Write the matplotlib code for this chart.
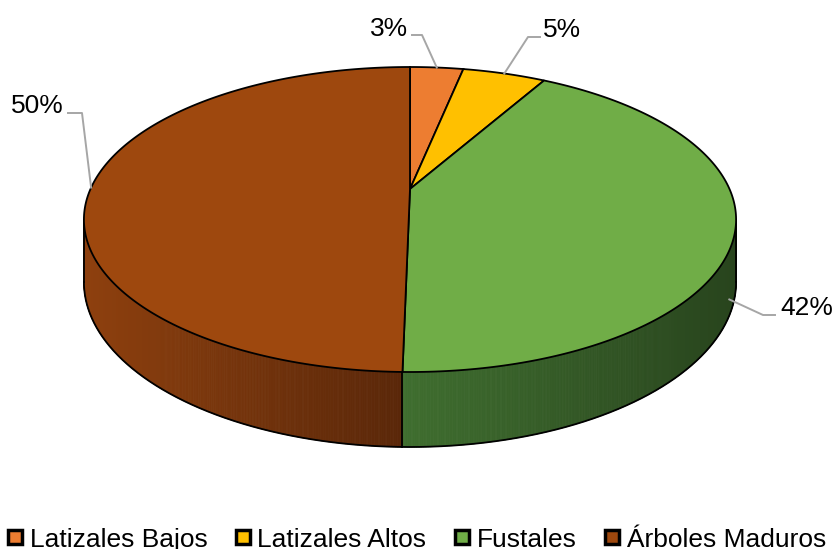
import numpy as np
import matplotlib.pyplot as plt
from matplotlib.patches import Polygon
from matplotlib.collections import PolyCollection
from matplotlib.lines import Line2D
from matplotlib.colors import to_rgb

plt.rcParams['font.family'] = ['Liberation Sans', 'DejaVu Sans']

# data
categories = ['Latizales Bajos', 'Latizales Altos', 'Fustales', 'Árboles Maduros']
values = [3.2, 5.0, 42.1, 49.7]
top_colors = ['#ED7D31', '#FFC000', '#70AD47', '#9E480E']
side_light = ['#C8651F', '#D9A300', '#3F6E2F', '#8E400E']
side_dark = ['#8A4313', '#9A7500', '#28441D', '#5A2709']

# pie geometry in pixels (perspective view of a disc)
CX, CY = 410, 189
A, B = 319.5, 146.4
K = 0.2
H = 60


def proj(theta, drop=0.0):
    X = np.sin(theta)
    Y = -np.cos(theta)
    d = 1 - K * Y
    return CX + A * X / d, CY + B * Y / d + drop * H / d


fig = plt.figure(figsize=(8.33, 5.49), dpi=100)
ax = fig.add_axes([0, 0, 1, 1])
ax.set_xlim(0, 833)
ax.set_ylim(549, 0)
ax.axis('off')

frac = np.array(values) / sum(values)
edges = np.concatenate([[0], np.cumsum(frac)]) * 2 * np.pi
th_r = np.arccos(-K)
th_l = 2 * np.pi - th_r

# side walls
for i in range(len(values)):
    t0 = max(edges[i], th_r)
    t1 = min(edges[i + 1], th_l)
    if t1 <= t0:
        continue
    ts = np.linspace(t0, t1, int(np.degrees(t1 - t0) * 4) + 2)
    xt, yt = proj(ts)
    xb, yb = proj(ts, 1)
    x_lo, x_hi = xt.min(), xt.max()
    c0, c1 = np.array(to_rgb(side_light[i])), np.array(to_rgb(side_dark[i]))
    quads, cols = [], []
    for j in range(len(ts) - 1):
        quads.append([(xt[j], yt[j]), (xt[j + 1], yt[j + 1]), (xb[j + 1], yb[j + 1]), (xb[j], yb[j])])
        f = ((xt[j] + xt[j + 1]) / 2 - x_lo) / max(x_hi - x_lo, 1)
        cols.append(c0 + (c1 - c0) * f)
    ax.add_collection(PolyCollection(quads, facecolors=cols, edgecolors=cols, linewidths=0.6, zorder=1))

# side outlines
ts = np.linspace(th_r, th_l, 400)
xb, yb = proj(ts, 1)
ax.plot(xb, yb, color='black', lw=1.3, zorder=2)
for t in [th_r, th_l] + [e for e in edges if th_r < e < th_l]:
    xs = [proj(t)[0], proj(t, 1)[0]]
    ys = [proj(t)[1], proj(t, 1)[1]]
    ax.plot(xs, ys, color='black', lw=1.3, zorder=2)

# top face
for i in range(len(values)):
    ts = np.linspace(edges[i], edges[i + 1], 200)
    x, y = proj(ts)
    pts = np.column_stack([np.concatenate([[CX], x]), np.concatenate([[CY], y])])
    ax.add_patch(Polygon(pts, closed=True, facecolor=top_colors[i], edgecolor='black', lw=1.3, zorder=3))

# data labels with leader lines
label_pos = [(408, 29, 'right'), (543, 30, 'left'), (780, 308, 'left'), (64, 106, 'right')]
elbows = [[(412, 35), (422, 35)], [(540, 37), (528, 37)], [(775, 315), (763, 315)], [(68, 113), (82, 113)]]
for i, v in enumerate(values):
    mid = (edges[i] + edges[i + 1]) / 2
    drop = 1.1 if th_r < mid < th_l else 0.0
    ax_, ay_ = proj(mid, drop)
    if drop:
        ax_ -= 6
    px = [p[0] for p in elbows[i]] + [ax_]
    py = [p[1] for p in elbows[i]] + [ay_]
    ax.plot(px, py, color='#A6A6A6', lw=1.4, zorder=4)
    tx, ty, ha = label_pos[i]
    ax.text(tx, ty, '%d%%' % round(frac[i] * 100), ha=ha, va='center', fontsize=19, zorder=5)

handles = [Line2D([0], [0], marker='s', color='none', markerfacecolor=c, markeredgecolor='black',
                  markeredgewidth=2.5, markersize=10.5, lw=0) for c in top_colors]
ax.legend(handles, categories, loc='lower center', bbox_to_anchor=(0.5, -0.024), ncol=4, frameon=False,
          fontsize=19, handlelength=0.6, handletextpad=0.25, columnspacing=1.05, borderaxespad=0)

fig.savefig('out.png', dpi=100)
